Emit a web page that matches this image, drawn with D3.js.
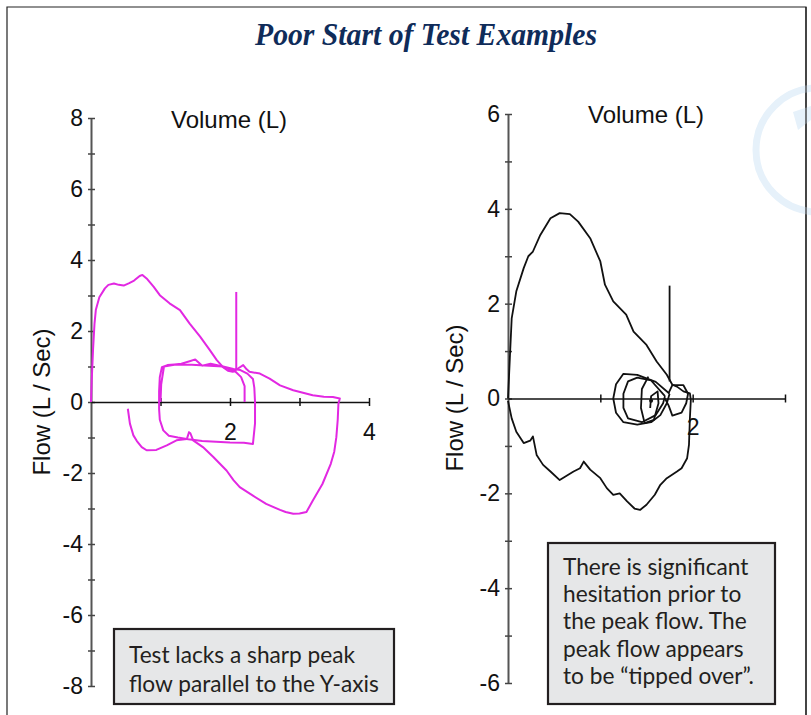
<!DOCTYPE html>
<html>
<head>
<meta charset="utf-8">
<script src="https://cdn.jsdelivr.net/npm/d3@7"></script>
<style>
  body { margin: 0; background: #fff; }
  svg { display: block; }
  .tick-label { font-family: "Liberation Sans", Arial, sans-serif; font-size: 23px; fill: #111; }
  .axis-title { font-family: "Liberation Sans", Arial, sans-serif; font-size: 24px; fill: #111; }
  .note { font-family: Lato, "Noto Sans", sans-serif; font-size: 22.7px; fill: #231f20; }
</style>
</head>
<body>
<svg id="chart" width="811" height="715"></svg>
<script>
// ---- data (volume L, flow L/s) ----
const leftYTicks = [-8, -7, -6, -5, -4, -3, -2, -1, 0, 1, 2, 3, 4, 5, 6, 7, 8];
const leftXTicks = [1, 2, 3, 4];
const leftXLabels = [2, 4];
const rightYTicks = [-6, -5, -4, -3, -2, -1, 0, 1, 2, 3, 4, 5, 6];
const rightXTicks = [1, 2, 3];
const rightXLabels = [2];

const leftMain = [[0,0],[0.01,0.6],[0.03,1.5],[0.05,2.2],[0.07,2.6],[0.12,2.95],[0.2,3.2],[0.25,3.3],[0.33,3.34],
  [0.4,3.3],[0.47,3.28],[0.55,3.35],[0.62,3.42],[0.7,3.55],[0.74,3.58],[0.8,3.48],[0.9,3.25],[0.99,3.01],
  [1.13,2.78],[1.28,2.59],[1.42,2.21],[1.57,1.84],[1.71,1.46],[1.81,1.18],[1.9,0.98],[1.97,0.88],[2.04,0.85],
  [2.12,0.95],[2.19,1.04],[2.24,0.92],[2.28,0.85],[2.43,0.8],[2.57,0.66],[2.72,0.47],[2.91,0.33],[3.05,0.26],
  [3.19,0.19],[3.35,0.15],[3.48,0.14],[3.58,0.1],[3.56,-0.05],[3.55,-0.5],[3.53,-0.99],[3.5,-1.4],[3.45,-1.74],
  [3.33,-2.31],[3.19,-2.78],[3.1,-3.1],[3.0,-3.14],[2.91,-3.15],[2.8,-3.1],[2.72,-3.04],[2.52,-2.87],[2.33,-2.64],
  [2.14,-2.4],[2.05,-2.2],[1.95,-1.93],[1.76,-1.55],[1.61,-1.27],[1.47,-1.08],[1.43,-0.88],[1.41,-0.85],[1.38,-1.04],
  [1.23,-1.08],[1.09,-1.22],[0.94,-1.35],[0.8,-1.36],[0.73,-1.27],[0.66,-1.1],[0.61,-0.94],[0.56,-0.61],[0.53,-0.19]];
const leftInner = [[2.21,0],[2.21,0.45],[2.16,0.7],[2.08,0.85],[1.95,0.95],[1.85,1.02],[1.72,1.08],[1.6,1.02],
  [1.5,1.2],[1.42,1.15],[1.3,1.08],[1.2,1.06],[1.1,1.04],[1.02,0.98],[0.99,0.7],[0.98,0.3],[0.98,-0.2],[0.99,-0.5],
  [1.04,-0.8],[1.12,-0.95],[1.25,-1.0],[1.4,-1.05],[1.6,-1.1],[1.8,-1.12],[2.0,-1.14],[2.2,-1.15],[2.33,-1.18],
  [2.36,-0.6],[2.36,0],[2.35,0.4],[2.33,0.65],[2.25,0.8],[2.15,0.9],[2.05,0.93],[1.9,1.0],[1.7,1.02],[1.45,1.05],
  [1.2,1.05],[1.05,1.0],[1.01,0.5],[1.0,0]];
const leftSpike = [[2.09,3.1],[2.09,0.9]];

const rightMain = [[0,0],[0.02,0.85],[0.04,1.69],[0.09,2.26],[0.17,2.75],[0.22,3.0],[0.27,3.1],[0.35,3.45],
  [0.46,3.8],[0.56,3.91],[0.67,3.89],[0.76,3.73],[0.89,3.38],[1.0,2.89],[1.05,2.4],[1.14,2.05],[1.28,1.77],
  [1.36,1.41],[1.5,1.13],[1.61,0.78],[1.72,0.5],[1.78,0.29],[1.83,0.25],[1.9,0.15],[1.97,0.11],[1.98,-0.03],
  [1.97,-0.42],[1.96,-0.98],[1.94,-1.26],[1.88,-1.47],[1.83,-1.54],[1.72,-1.68],[1.65,-1.82],[1.59,-2.03],
  [1.5,-2.24],[1.43,-2.35],[1.37,-2.32],[1.29,-2.17],[1.21,-2.0],[1.14,-2.03],[1.07,-1.89],[1.0,-1.68],
  [0.89,-1.5],[0.82,-1.33],[0.78,-1.47],[0.71,-1.54],[0.56,-1.72],[0.46,-1.54],[0.38,-1.4],[0.31,-1.19],
  [0.27,-0.8],[0.24,-0.89],[0.17,-0.94],[0.09,-0.7],[0.04,-0.42],[0,-0.05]];
const rightLoopA = [[1.75,0.1],[1.6,0.35],[1.4,0.5],[1.25,0.52],[1.17,0.3],[1.14,0],[1.17,-0.3],[1.25,-0.5],
  [1.4,-0.55],[1.55,-0.5],[1.65,-0.35],[1.72,-0.1],[1.75,0.1]];
const rightLoopB = [[1.7,0.05],[1.55,0.38],[1.4,0.44],[1.3,0.36],[1.25,0.1],[1.25,-0.2],[1.3,-0.42],[1.45,-0.5],
  [1.6,-0.35],[1.68,-0.1],[1.7,0.05]];
const rightLoopC = [[1.52,0.46],[1.45,0.2],[1.44,-0.2],[1.48,-0.52],[1.58,-0.45],[1.63,-0.1],[1.62,0.15],[1.55,0.05],
  [1.54,-0.2]];
const rightLoopD = [[1.74,0.12],[1.78,0.28],[1.9,0.28],[1.95,0.1],[1.93,-0.1],[1.88,-0.3],[1.78,-0.36],
  [1.74,-0.15],[1.7,0.0]];
const rightSpike = [[1.75,2.38],[1.75,0.36]];

const leftNote = ["Test lacks a sharp peak", "flow parallel to the Y-axis"];
const rightNote = ["There is significant", "hesitation prior to", "the peak flow. The",
  "peak flow appears", "to be \u201ctipped over\u201d."];

const svg = d3.select('#chart');

// frame + faint logo
svg.append('path')
    .attr('d', 'M7,715 V7 H806 V715')
    .attr('fill', 'none').attr('stroke', '#222').attr('stroke-width', 1.2);
svg.append('circle')
    .attr('cx', 818).attr('cy', 150).attr('r', 62)
    .attr('fill', 'none').attr('stroke', '#e6f1fa').attr('stroke-width', 7);
svg.append('path')
    .attr('d', 'M793,112 L811,106 L811,120 L798,130 Z')
    .attr('fill', '#e6f1fa');
svg.append('line')
    .attr('x1', 806).attr('x2', 806).attr('y1', 7).attr('y2', 715)
    .attr('stroke', '#222').attr('stroke-width', 1.2);

svg.append('text')
    .attr('x', 426).attr('y', 45)
    .attr('text-anchor', 'middle')
    .attr('textLength', 342).attr('lengthAdjust', 'spacingAndGlyphs')
    .style('font-family', '"Liberation Serif", "Times New Roman", serif')
    .style('font-weight', 'bold').style('font-style', 'italic')
    .style('font-size', '31px').style('fill', '#0f2c5a')
    .text('Poor Start of Test Examples');

function drawPanel(cfg) {
    const x = d3.scaleLinear().domain(cfg.xDomain).range(cfg.xRange);
    const y = d3.scaleLinear().domain(cfg.yDomain).range(cfg.yRange);
    const g = svg.append('g');

    // y axis
    const yAxis = d3.axisLeft(y).tickValues(cfg.yTicks).tickSize(0).tickPadding(8)
        .tickFormat(d => d % 2 === 0 ? d : '');
    const ya = g.append('g').attr('transform', `translate(${x(0)},0)`).call(yAxis);
    ya.select('.domain').attr('stroke', '#555').attr('stroke-width', 2);
    ya.selectAll('.tick line').attr('x1', -3).attr('x2', 4).attr('stroke', '#444').attr('stroke-width', 1.5);
    ya.selectAll('.tick text').attr('class', 'tick-label').attr('fill', null);

    // x axis along flow = 0
    const xAxis = d3.axisBottom(x).tickValues(cfg.xTicks).tickSize(0).tickPadding(cfg.xPad)
        .tickFormat(d => cfg.xLabels.includes(d) ? d : '');
    const xa = g.append('g').attr('transform', `translate(0,${y(0)})`).call(xAxis);
    xa.select('.domain').attr('stroke', '#111').attr('stroke-width', 1.6);
    xa.selectAll('.tick line').attr('y1', -4).attr('y2', 4).attr('stroke', '#111').attr('stroke-width', 1.5);
    xa.selectAll('.tick text').attr('class', 'tick-label').attr('fill', null).attr('dy', '0.45em');

    const line = d3.line().x(d => x(d[0])).y(d => y(d[1]));
    cfg.series.forEach(s => {
        g.append('path').datum(s)
            .attr('d', line)
            .attr('fill', 'none')
            .attr('stroke', cfg.color)
            .attr('stroke-width', cfg.width)
            .attr('stroke-linejoin', 'round');
    });

    g.append('text').attr('class', 'axis-title')
        .attr('x', cfg.volPos[0]).attr('y', cfg.volPos[1])
        .attr('text-anchor', 'middle')
        .text('Volume (L)');
    g.append('text').attr('class', 'axis-title')
        .attr('transform', `translate(${cfg.flowPos[0]},${cfg.flowPos[1]}) rotate(-90)`)
        .attr('text-anchor', 'middle')
        .text('Flow (L / Sec)');
}

drawPanel({
    xDomain: [0, 4], xRange: [91, 369],
    yDomain: [-8, 8], yRange: [686, 118],
    yTicks: leftYTicks, xTicks: leftXTicks, xLabels: leftXLabels, xPad: 28,
    series: [leftMain, leftInner, leftSpike],
    color: '#e228e2', width: 2,
    volPos: [229, 128], flowPos: [50, 402]
});

drawPanel({
    xDomain: [0, 3], xRange: [508, 785],
    yDomain: [-6, 6], yRange: [683, 114],
    yTicks: rightYTicks, xTicks: rightXTicks, xLabels: rightXLabels, xPad: 26,
    series: [rightMain, rightLoopA, rightLoopB, rightLoopC, rightLoopD, rightSpike],
    color: '#111', width: 1.8,
    volPos: [646, 123], flowPos: [463, 398]
});

// dot inside the small loops
svg.append('circle')
    .attr('cx', d3.scaleLinear().domain([0, 3]).range([508, 785])(1.55))
    .attr('cy', d3.scaleLinear().domain([-6, 6]).range([683, 114])(-0.05))
    .attr('r', 2).attr('fill', '#111');

function drawNote(box, lines, lineGap) {
    svg.append('rect')
        .attr('x', box[0]).attr('y', box[1])
        .attr('width', box[2]).attr('height', box[3])
        .attr('fill', '#e6e7e8').attr('stroke', '#231f20').attr('stroke-width', 2.2);
    const t = svg.append('text').attr('class', 'note');
    lines.forEach((l, i) => {
        t.append('tspan')
            .attr('x', box[0] + 15)
            .attr('y', box[4] + i * lineGap)
            .text(l);
    });
}

drawNote([114, 629, 280, 75, 663], leftNote, 28.5);
drawNote([548, 543, 227, 161, 575], rightNote, 27.2);
</script>
</body>
</html>
